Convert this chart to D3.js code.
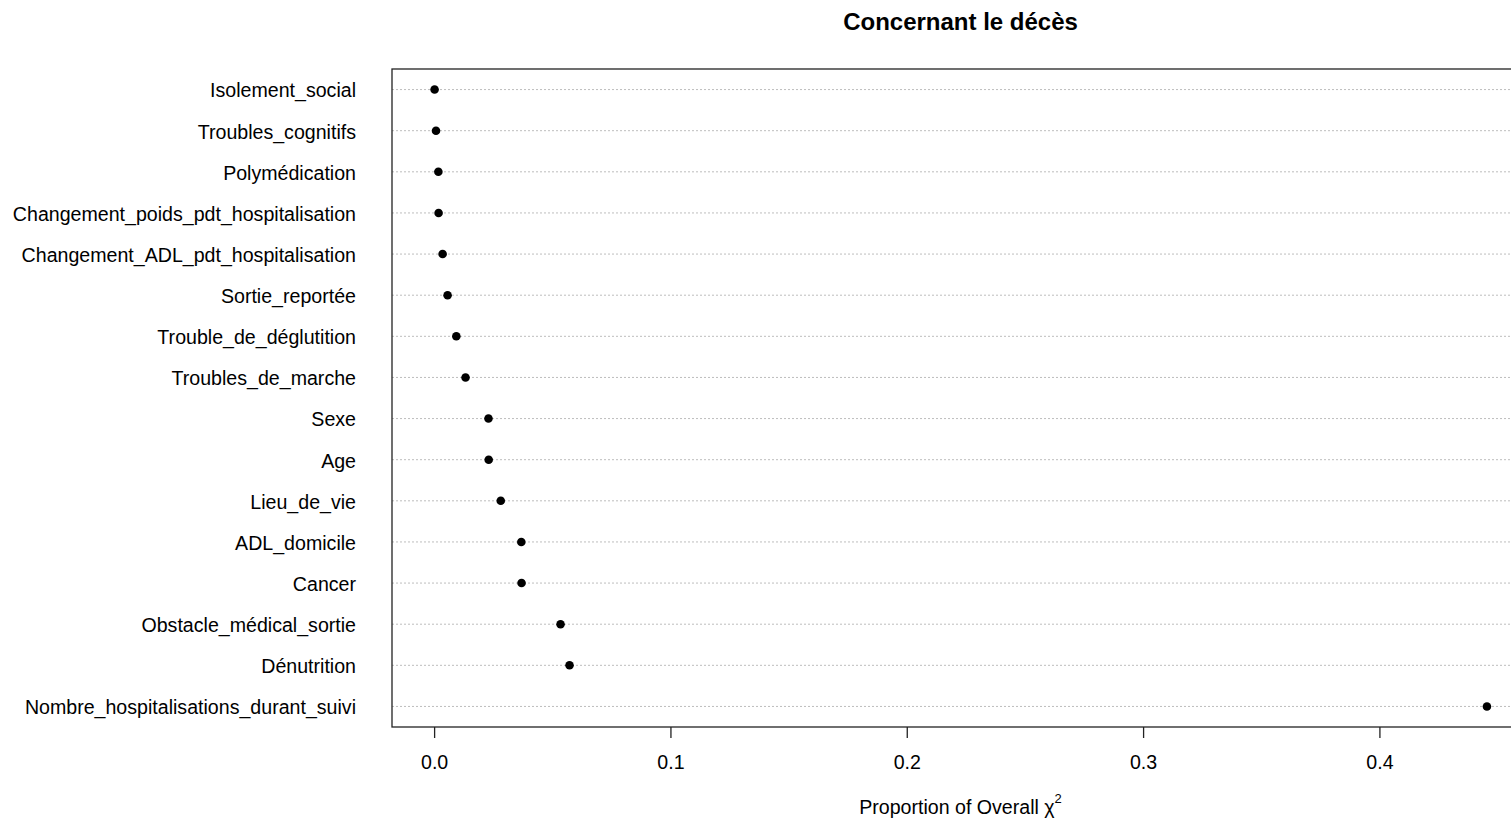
<!DOCTYPE html>
<html><head><meta charset="utf-8">
<script src="https://cdn.jsdelivr.net/npm/d3@7"></script>
<style>body{margin:0;background:#fff;overflow:hidden}svg{display:block}text{font-family:"Liberation Sans",Arial,sans-serif;fill:#000}</style>
</head><body>
<script>
const title = "Concernant le décès";
const categories = ["Isolement_social","Troubles_cognitifs","Polymédication","Changement_poids_pdt_hospitalisation","Changement_ADL_pdt_hospitalisation","Sortie_reportée","Trouble_de_déglutition","Troubles_de_marche","Sexe","Age","Lieu_de_vie","ADL_domicile","Cancer","Obstacle_médical_sortie","Dénutrition","Nombre_hospitalisations_durant_suivi"];
const values = [0.0002,0.0008,0.0018,0.0019,0.0036,0.0057,0.0094,0.0133,0.0230,0.0231,0.0282,0.0369,0.0370,0.0535,0.0573,0.4455];
const xTicks = [0.0,0.1,0.2,0.3,0.4];
const xLabel = "Proportion of Overall χ";

const W = 1511, H = 822;
const mLeft = 392, mTop = 69, mBottom = 727;
const ext = (d3.max(values) - 0) * 0.04;
const xDomain = [0 - ext, d3.max(values) + ext];
const pxPerUnit = (1379.3 - 434) / 0.4;
const mRight = mLeft + (xDomain[1] - xDomain[0]) * pxPerUnit;

const svg = d3.select("body").append("svg").attr("width", W).attr("height", H);
const x = d3.scaleLinear().domain(xDomain).range([mLeft, mRight]);
const y = d3.scaleBand().domain(categories).range([mTop, mBottom]).padding(0);

// grid lines
svg.append("g").selectAll("line").data(categories).join("line")
  .attr("x1", mLeft).attr("x2", mRight)
  .attr("y1", d => y(d) + y.bandwidth()/2).attr("y2", d => y(d) + y.bandwidth()/2)
  .attr("stroke", "#bdbdbd").attr("stroke-width", 1).attr("stroke-dasharray", "2,2");

// box
svg.append("rect").attr("x", mLeft).attr("y", mTop).attr("width", mRight - mLeft).attr("height", mBottom - mTop)
  .attr("fill", "none").attr("stroke", "#222").attr("stroke-width", 1.3);

// points
svg.append("g").selectAll("circle").data(values).join("circle")
  .attr("cx", d => x(d)).attr("cy", (d, i) => y(categories[i]) + y.bandwidth()/2)
  .attr("r", 4.3).attr("fill", "#000");

// category labels
svg.append("g").selectAll("text").data(categories).join("text")
  .attr("x", 356).attr("y", d => y(d) + y.bandwidth()/2 + 1).attr("dy", "0.35em")
  .attr("text-anchor", "end").attr("font-size", 19.6).text(d => d);

// x axis
const xAxis = d3.axisBottom(x).tickValues(xTicks).tickFormat(d3.format(".1f")).tickSize(11).tickSizeOuter(0);
const gx = svg.append("g").attr("transform", `translate(0,${mBottom})`).call(xAxis);
gx.select(".domain").remove();
gx.selectAll(".tick line").attr("stroke", "#222").attr("stroke-width", 1.3);
gx.selectAll(".tick text").attr("font-size", 19.6).attr("y", 0).attr("dy", "0.35em")
  .attr("transform", "translate(0,35)").attr("font-family", '"Liberation Sans",Arial,sans-serif').attr("fill", "#000");

// x label
const xl = svg.append("text").attr("x", (mLeft + mRight) / 2).attr("y", 814)
  .attr("text-anchor", "middle").attr("font-size", 19.6);
xl.append("tspan").text(xLabel);
xl.append("tspan").attr("font-size", 13).attr("dy", -11).text("2");

// title
svg.append("text").attr("x", (mLeft + mRight) / 2).attr("y", 29.5).attr("text-anchor", "middle")
  .attr("font-size", 24).attr("font-weight", "bold").text(title);
</script>
</body></html>
